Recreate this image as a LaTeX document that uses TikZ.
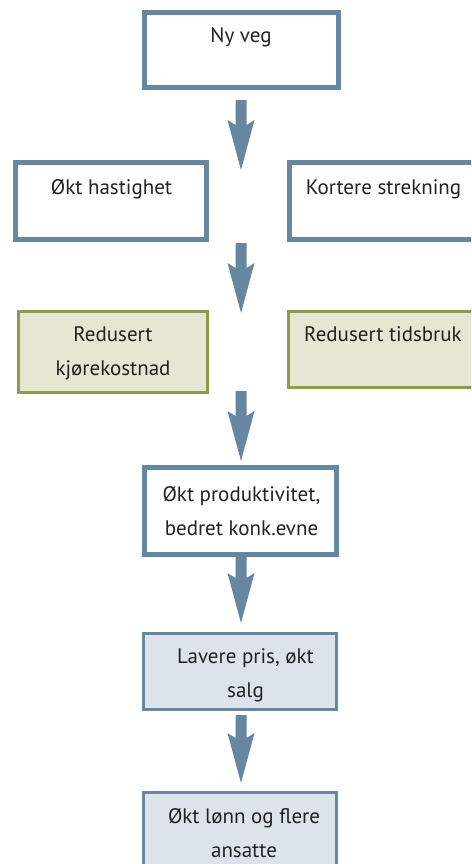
\documentclass[tikz,border=0pt]{standalone}
\usepackage{fontspec}
\setmainfont{PT Sans}
\usetikzlibrary{calc}
\definecolor{steel}{HTML}{6786A0}
\definecolor{olivebd}{HTML}{8E9A4E}
\definecolor{greenfill}{HTML}{E6E7D2}
\definecolor{bluefill}{HTML}{DCE3EA}
\definecolor{textcol}{HTML}{222222}
\newcommand\blkarrow[2]{%
  \fill[steel] let \p1=(#1), \p2=(#2) in
    (\x1-5.5pt,\y1) -- (\x1-5.5pt,\y2+45pt) -- (\x1-13.5pt,\y2+50pt) -- (\x1,\y2)
    -- (\x1+13.5pt,\y2+50pt) -- (\x1+5.5pt,\y2+45pt) -- (\x1+5.5pt,\y1) -- cycle;}
\begin{document}
\begin{tikzpicture}[x=1pt,y=-1pt,
  box/.style={inner sep=0pt, outer sep=0pt},
  thickbox/.style={box, draw=steel, line width=5pt, fill=white},
  thinbox/.style={box, draw=steel, line width=3pt, fill=bluefill},
  greenbox/.style={box, draw=olivebd, line width=3pt, fill=greenfill},
  lbl/.style={font=\fontsize{21}{34}\selectfont, align=center, anchor=base, inner sep=0pt, text=textcol}]
\useasboundingbox (0,0) rectangle (471,864);
\clip (0,0) rectangle (471,864);
% boxes
\draw[thickbox] (144.5,12.5) rectangle (338.5,87.5);
\draw[thickbox] (15.5,162.5) rectangle (206.5,239.5);
\draw[thickbox] (289.5,162.5) rectangle (500,239.5);
\draw[greenbox] (18.5,311.5) rectangle (207.5,392.5);
\draw[greenbox] (288.5,311.5) rectangle (500,387.5);
\draw[thickbox] (144.5,467.5) rectangle (336.5,554.5);
\draw[thinbox] (143.5,633.5) rectangle (336.5,709.5);
\draw[thinbox] (143.5,792.5) rectangle (336.5,900);
% texts (base anchor = last line's baseline)
\node[lbl] (t1) at (241,43) {Ny veg};
\node[lbl] (t2) at (111.5,194) {Økt hastighet};
\node[lbl] (t3) at (383.5,194) {Kortere strekning};
\node[lbl] (t4) at (113,375) {Redusert\\kjørekostnad};
\node[lbl] (t5) at (383,341) {Redusert tidsbruk};
\node[lbl] (t6) at (241.5,535) {Økt produktivitet,\\bedret konk.evne};
\node[lbl] (t7) at (245.5,697) {Lavere pris, økt\\salg};
\node[lbl] (t8) at (244,857) {Økt lønn og flere\\ansatte};
% arrows
\coordinate (a1s) at (241,100); \coordinate (a1e) at (241,170);
\coordinate (a2s) at (241,243); \coordinate (a2e) at (241,313);
\coordinate (a3s) at (241,391); \coordinate (a3e) at (241,461);
\coordinate (a4s) at (241,555); \coordinate (a4e) at (241,623);
\coordinate (a5s) at (241,715); \coordinate (a5e) at (241,783);
\blkarrow{a1s}{a1e}
\blkarrow{a2s}{a2e}
\blkarrow{a3s}{a3e}
\blkarrow{a4s}{a4e}
\blkarrow{a5s}{a5e}
\end{tikzpicture}
\end{document}
